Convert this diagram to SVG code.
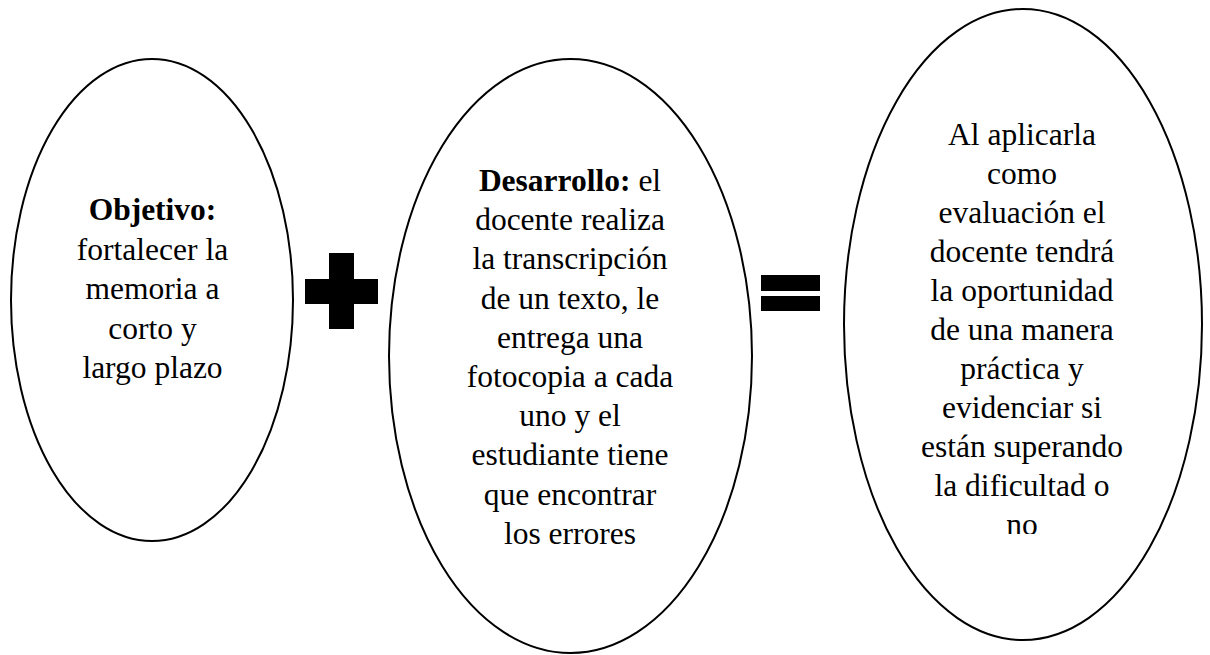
<svg xmlns="http://www.w3.org/2000/svg" width="1210" height="655" viewBox="0 0 1210 655">
<style>
.shape{fill:#fff;stroke:#000;stroke-width:2}
.t{font-family:'Liberation Serif','Times New Roman',Times,'DejaVu Serif',serif;font-size:31.5px;fill:#000;text-anchor:middle}
.b{font-weight:bold}
.sym{fill:#000}
</style>
<defs>
<clipPath id="clip3"><rect x="830" y="0" width="380" height="534"/></clipPath>
</defs>
<rect width="1210" height="655" fill="#fff"/>
<g id="node-objetivo">
<ellipse class="shape" cx="152" cy="300" rx="141" ry="241"/>
<text class="t" font-family="Liberation Serif, serif" x="152.5"><tspan x="152.5" y="220" class="b">Objetivo:</tspan><tspan x="152.5" y="259.5">fortalecer la</tspan><tspan x="152.5" y="299">memoria a</tspan><tspan x="152.5" y="338.5">corto y</tspan><tspan x="152.5" y="378">largo plazo</tspan></text>
</g>
<g id="node-plus">
<rect class="sym" x="305" y="279" width="73" height="25"/>
<rect class="sym" x="329" y="253" width="25" height="76"/>
</g>
<g id="node-desarrollo">
<ellipse class="shape" cx="570.5" cy="356" rx="181.5" ry="297"/>
<text class="t" font-family="Liberation Serif, serif" x="570"><tspan x="570" y="191"><tspan class="b">Desarrollo:</tspan> el</tspan><tspan x="570" y="230.2">docente realiza</tspan><tspan x="570" y="269.4">la transcripción</tspan><tspan x="570" y="308.6">de un texto, le</tspan><tspan x="570" y="347.8">entrega una</tspan><tspan x="570" y="387">fotocopia a cada</tspan><tspan x="570" y="426.2">uno y el</tspan><tspan x="570" y="465.4">estudiante tiene</tspan><tspan x="570" y="504.6">que encontrar</tspan><tspan x="570" y="543.8">los errores</tspan></text>
</g>
<g id="node-equals">
<rect class="sym" x="761" y="275" width="59" height="16"/>
<rect class="sym" x="761" y="296" width="59" height="15"/>
</g>
<g id="node-evaluacion">
<ellipse class="shape" cx="1023" cy="324.5" rx="179" ry="315.5"/>
<text class="t" font-family="Liberation Serif, serif" x="1022" clip-path="url(#clip3)"><tspan x="1022" y="145">Al aplicarla</tspan><tspan x="1022" y="184">como</tspan><tspan x="1022" y="223">evaluación el</tspan><tspan x="1022" y="262">docente tendrá</tspan><tspan x="1022" y="301">la oportunidad</tspan><tspan x="1022" y="340">de una manera</tspan><tspan x="1022" y="379">práctica y</tspan><tspan x="1022" y="418">evidenciar si</tspan><tspan x="1022" y="457">están superando</tspan><tspan x="1022" y="496">la dificultad o</tspan><tspan x="1022" y="535">no</tspan></text>
</g>
<g id="connectors"></g>
</svg>
